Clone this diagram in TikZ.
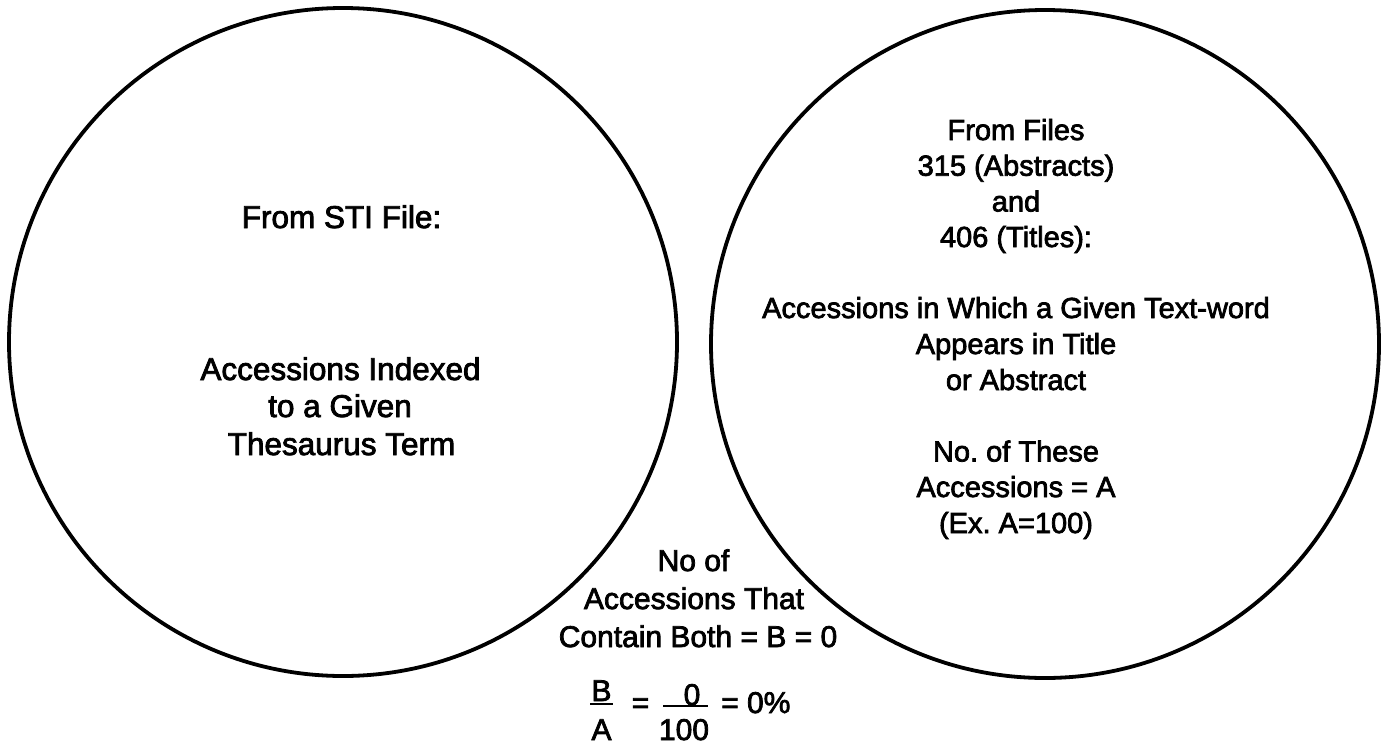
\documentclass[tikz,border=0pt]{standalone}
\usepackage{fontspec}
\setmainfont{Liberation Sans}
\newfontface\semifont{Liberation Sans}[RawFeature={embolden=2.5}]
\begin{document}
\begin{tikzpicture}[x=1pt,y=-1pt,
  setcircle/.style={draw, circle, line width=3.8pt, minimum size=668pt, inner sep=0pt},
  lt/.style={anchor=base, inner sep=0pt, font=\semifont\fontsize{31.5pt}{37pt}\selectfont\frenchspacing},
  rt/.style={anchor=base, inner sep=0pt, font=\semifont\fontsize{29pt}{35pt}\selectfont\frenchspacing},
  bt/.style={anchor=base, inner sep=0pt, font=\semifont\fontsize{30pt}{36pt}\selectfont\frenchspacing},
  bar/.style={line width=2.6pt}]
\useasboundingbox (0,0) rectangle (1391,744);
\fill[white] (0,0) rectangle (1391,744);
% circles
\node[setcircle] (setL) at (343,342) {};
\node[setcircle] (setR) at (1045,344) {};
% left circle text
\node[lt] (l1) at (341.5,228) {From STI File:};
\node[lt] (l2) at (340.5,380) {Accessions Indexed};
\node[lt] (l3) at (340,417) {to a Given};
\node[lt] (l4) at (341.5,455) {Thesaurus Term};
% right circle text
\node[rt] (r1) at (1016,140) {From Files};
\node[rt] (r2) at (1016,175.7) {315 (Abstracts)};
\node[rt] (r3) at (1016,211.5) {and};
\node[rt] (r4) at (1016,247) {406 (Titles):};
\node[rt] (r5) at (1016,318) {Accessions in Which a Given Text-word};
\node[rt] (r6) at (1016,354) {Appears in Title};
\node[rt] (r7) at (1016,390) {or Abstract};
\node[rt] (r8) at (1016,461.5) {No. of These};
\node[rt] (r9) at (1016,497) {Accessions = A};
\node[rt] (r10) at (1016,533) {(Ex. A=100)};
% bottom text
\node[bt] (b1) at (693.5,571) {No of};
\node[bt] (b2) at (694,609) {Accessions That};
\node[bt] (b3) at (698,647) {Contain Both = B = 0};
% formula
\node[bt] (fB) at (601.5,701) {B};
\node[bt] (fA) at (601.5,740) {A};
\coordinate (bar1a) at (590,704);
\coordinate (bar1b) at (613,704);
\draw[bar] (bar1a) -- (bar1b);
\node[bt] (eq1) at (640.5,713) {=};
\node[bt] (fnum) at (692,705) {0};
\node[bt] (fden) at (684,740) {100};
\coordinate (bar2a) at (663,706);
\coordinate (bar2b) at (708,706);
\draw[bar] (bar2a) -- (bar2b);
\node[bt, anchor=base west] (res) at (721,713) {= 0\%};
\end{tikzpicture}
\end{document}
